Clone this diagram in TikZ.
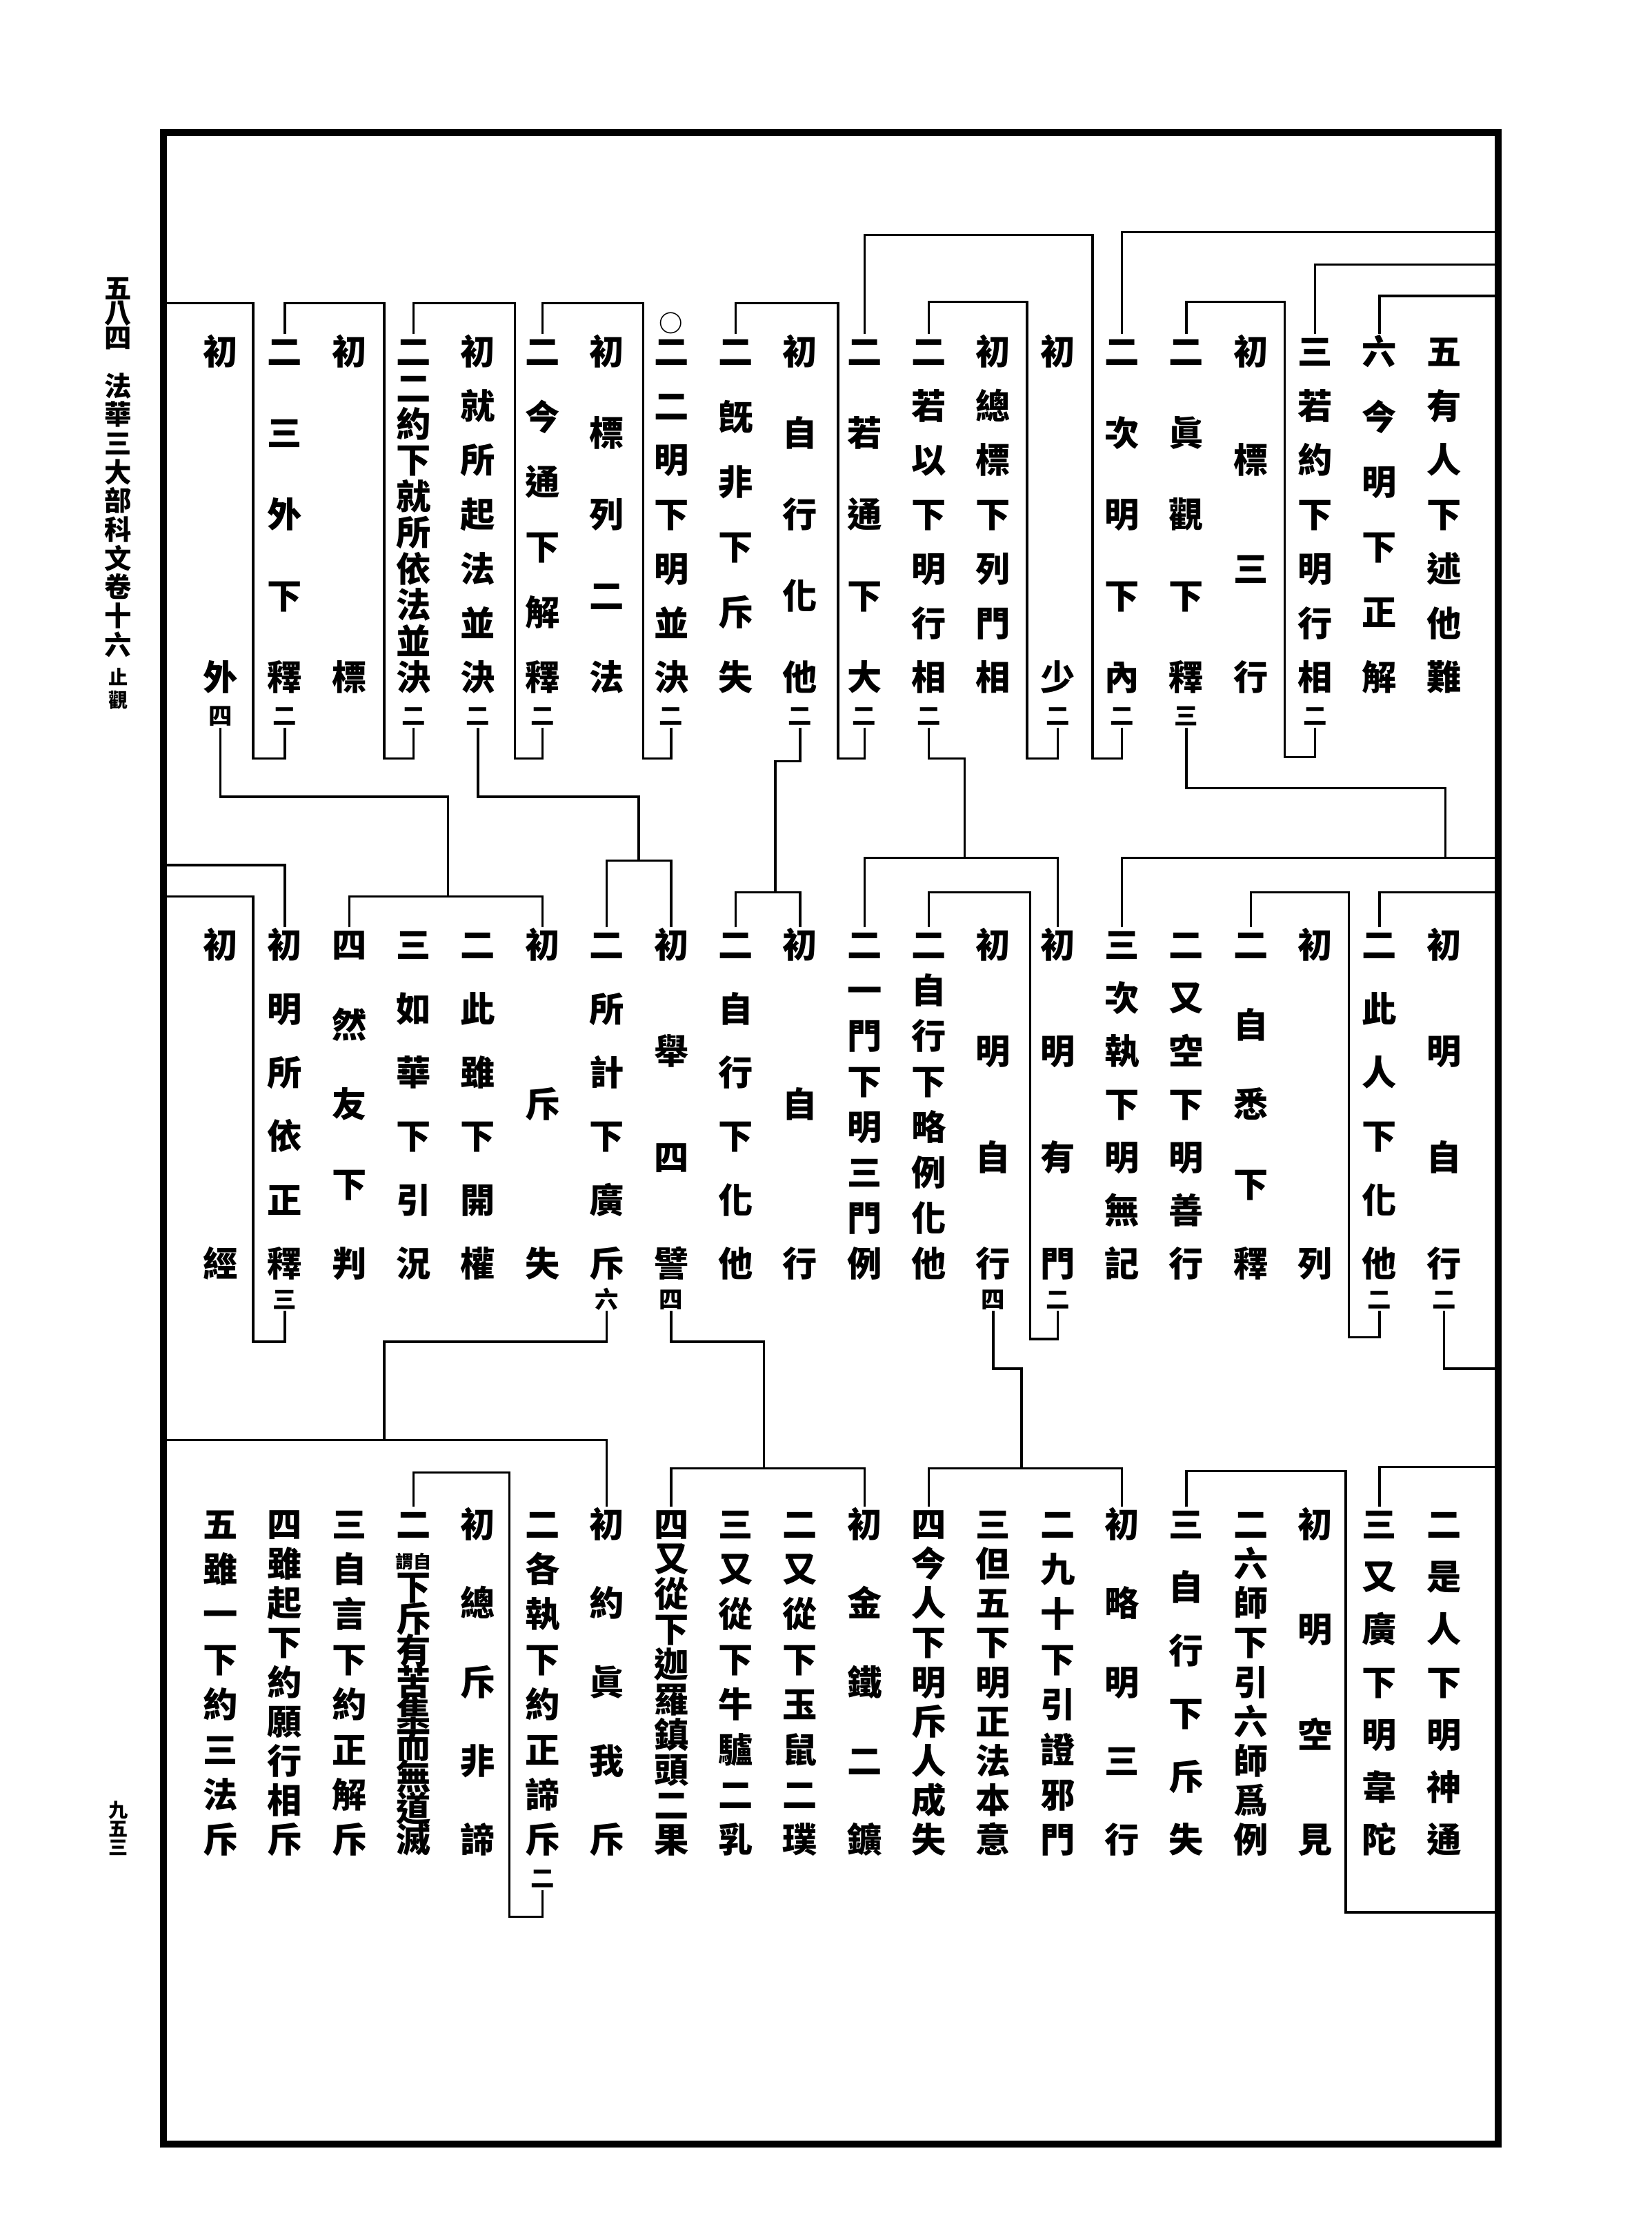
\documentclass[tikz,border=0pt]{standalone}
\usepackage{fontspec}
\newfontfamily\cjk{Noto Sans CJK TC}
\makeatletter
\def\vchars@end{\vchars@end}
\newcommand\vchars[1]{\vchars@#1\vchars@end}
\def\vchars@#1{\ifx#1\vchars@end\unskip\else\hbox to 1.1em{\hss\vrule height .88em depth .12em width 0pt\relax#1\hss}\vss\expandafter\vchars@\fi}
\makeatother
\newcommand\wz{{\fontsize{7.4pt}{7.4pt}\selectfont 謂自}}
% column node: name, k, ymid, span, chars
\newcommand\cn[5]{\node[colnode] (#1) at ({155+45.26*#2},#3) {\vbox to \dimexpr #4+1em\relax{\vchars{#5}\kern0pt}};}
\newcommand\cnT[3]{\cn{#1}{#2}{361.5}{47.22mm}{#3}}
\newcommand\cnM[3]{\cn{#1}{#2}{776}{46.19mm}{#3}}
\newcommand\cnB[3]{\cn{#1}{#2}{1182}{45.78mm}{#3}}
\newcommand\an[4]{\node[annnode] (#1) at ({155+45.26*#2},#3) {\vrule height .88em depth .12em width 0pt\relax #4};}
\begin{document}
\begin{tikzpicture}[x=0.2062mm,y=-0.2062mm,
  br/.style={line width=0.95pt},
  colnode/.style={inner sep=0pt,outer sep=0pt,font=\cjk\bfseries\fontsize{14.3pt}{14.3pt}\selectfont},
  annnode/.style={inner sep=0pt,outer sep=0pt,font=\cjk\bfseries\fontsize{9.8pt}{9.8pt}\selectfont},
  margnode/.style={inner sep=0pt,outer sep=0pt,font=\cjk\bfseries\fontsize{11.2pt}{11.2pt}\selectfont},
  margsmall/.style={inner sep=0pt,outer sep=0pt,font=\cjk\bfseries\fontsize{8pt}{8pt}\selectfont}]
\useasboundingbox (0,0) rectangle (1161,1568);
\fill[white] (0,0) rectangle (1161,1568);
% frame
\draw[line width=2.9pt] (115,93) rectangle (1053,1507);
\coordinate (Rb) at (1052,0);
\coordinate (Lb) at (116,0);
% margin
\node[margnode] (mg1) at (83,220) {\vbox to \dimexpr 7.2mm+1em\relax{\vchars{五八四}\kern0pt}};
\node[margnode] (mg2) at (83,362) {\vbox to \dimexpr 37.5mm+1em\relax{\vchars{法華三大部科文卷十六}\kern0pt}};
\node[margsmall] (mg3) at (83,484) {\vbox to \dimexpr 3.3mm+1em\relax{\vchars{止觀}\kern0pt}};
\node[margsmall] (mg4) at (83,1285) {\vbox to \dimexpr 5.4mm+1em\relax{\vchars{九五三}\kern0pt}};
% ---------------- top row
\cnT{T19}{19}{五有人下述他難}
\cnT{T18}{18}{六今明下正解}
\cnT{T17}{17}{三若約下明行相}  \an{T17a}{17}{503}{二}
\cnT{T16}{16}{初標三行}
\cnT{T15}{15}{二眞觀下釋}      \an{T15a}{15}{503}{三}
\cnT{T14}{14}{二次明下內}      \an{T14a}{14}{503}{二}
\cnT{T13}{13}{初少}            \an{T13a}{13}{503}{二}
\cnT{T12}{12}{初總標下列門相}
\cnT{T11}{11}{二若以下明行相}  \an{T11a}{11}{503}{二}
\cnT{T10}{10}{二若通下大}      \an{T10a}{10}{503}{二}
\cnT{T9}{9}{初自行化他}        \an{T9a}{9}{503}{二}
\cnT{T8}{8}{二旣非下斥失}
\cnT{T7}{7}{二二明下明並決}    \an{T7a}{7}{503}{二}
\an{T7o}{7}{227}{○}
\cnT{T6}{6}{初標列二法}
\cnT{T5}{5}{二今通下解釋}      \an{T5a}{5}{503}{二}
\cnT{T4}{4}{初就所起法並決}    \an{T4a}{4}{503}{二}
\cnT{T3}{3}{二二約下就所依法並決} \an{T3a}{3}{503}{二}
\cnT{T2}{2}{初標}
\cnT{T1}{1}{二三外下釋}        \an{T1a}{1}{503}{二}
\cnT{T0}{0}{初外}              \an{T0a}{0}{503}{四}
% ---------------- middle row
\cnM{M19}{19}{初明自行}        \an{M19a}{19}{913}{二}
\cnM{M18}{18}{二此人下化他}    \an{M18a}{18}{913}{二}
\cnM{M17}{17}{初列}
\cnM{M16}{16}{二自悉下釋}
\cnM{M15}{15}{二又空下明善行}
\cnM{M14}{14}{三次執下明無記}
\cnM{M13}{13}{初明有門}        \an{M13a}{13}{913}{二}
\cnM{M12}{12}{初明自行}        \an{M12a}{12}{913}{四}
\cnM{M11}{11}{二自行下略例化他}
\cnM{M10}{10}{二一門下明三門例}
\cnM{M9}{9}{初自行}
\cnM{M8}{8}{二自行下化他}
\cnM{M7}{7}{初舉四譬}          \an{M7a}{7}{913}{四}
\cnM{M6}{6}{二所計下廣斥}      \an{M6a}{6}{913}{六}
\cnM{M5}{5}{初斥失}
\cnM{M4}{4}{二此雖下開權}
\cnM{M3}{3}{三如華下引況}
\cnM{M2}{2}{四然友下判}
\cnM{M1}{1}{初明所依正釋}      \an{M1a}{1}{913}{三}
\cnM{M0}{0}{初經}
% ---------------- bottom row
\cnB{B19}{19}{二是人下明神通}
\cnB{B18}{18}{三又廣下明韋陀}
\cnB{B17}{17}{初明空見}
\cnB{B16}{16}{二六師下引六師爲例}
\cnB{B15}{15}{三自行下斥失}
\cnB{B14}{14}{初略明三行}
\cnB{B13}{13}{二九十下引證邪門}
\cnB{B12}{12}{三但五下明正法本意}
\cnB{B11}{11}{四今人下明斥人成失}
\cnB{B10}{10}{初金鐵二鑛}
\cnB{B9}{9}{二又從下玉鼠二璞}
\cnB{B8}{8}{三又從下牛驢二乳}
\cnB{B7}{7}{四又從下迦羅鎮頭二果}
\cnB{B6}{6}{初約眞我斥}
\cnB{B5}{5}{二各執下約正諦斥}  \an{B5a}{5}{1320}{二}
\cnB{B4}{4}{初總斥非諦}
\cnB{B3}{3}{二\wz 下斥有苦集而無道滅}
\cnB{B2}{2}{三自言下約正解斥}
\cnB{B1}{1}{四雖起下約願行相斥}
\cnB{B0}{0}{五雖一下約三法斥}
% ================= connectors: top row
\draw[br] (T14.north) -- (T14.north |- 0,163) -- (Rb |- 0,163);
\draw[br] (T17.north) -- (T17.north |- 0,186) -- (Rb |- 0,186);
\draw[br] (T18.north) -- (T18.north |- 0,208) -- (Rb |- 0,208);
\draw[br] (T17a.south) -- (T17a.south |- 0,532) -- (903,532) -- (903,212) -- (T15.north |- 0,212) -- (T15.north);
\draw[br] (T14a.south) -- (T14a.south |- 0,533) -- (768,533) -- (768,165) -- (T10.north |- 0,165) -- (T10.north);
\draw[br] (T13a.south) -- (T13a.south |- 0,533) -- (722,533) -- (722,212) -- (T11.north |- 0,212) -- (T11.north);
\draw[br] (T10a.south) -- (T10a.south |- 0,533) -- (589,533) -- (589,213) -- (T8.north |- 0,213) -- (T8.north);
\draw[br] (T7a.south) -- (T7a.south |- 0,533) -- (452,533) -- (452,213) -- (T5.north |- 0,213) -- (T5.north);
\draw[br] (T5a.south) -- (T5a.south |- 0,533) -- (362,533) -- (362,213) -- (T3.north |- 0,213) -- (T3.north);
\draw[br] (T3a.south) -- (T3a.south |- 0,533) -- (270,533) -- (270,213) -- (T1.north |- 0,213) -- (T1.north);
\draw[br] (T1a.south) -- (T1a.south |- 0,533) -- (178,533) -- (178,213) -- (Lb |- 0,213);
% top -> middle
\draw[br] (T15a.south) -- (T15a.south |- 0,554) -- (1016,554) -- (1016,603);
\draw[br] (M14.north) -- (M14.north |- 0,603) -- (Rb |- 0,603);
\draw[br] (M18.north) -- (M18.north |- 0,627) -- (Rb |- 0,627);
\draw[br] (T11a.south) -- (T11a.south |- 0,533) -- (678,533) -- (678,603);
\draw[br] (M10.north) -- (M10.north |- 0,603) -- (M13.north |- 0,603) -- (M13.north);
\draw[br] (T9a.south) -- (T9a.south |- 0,535) -- (545,535) -- (545,627);
\draw[br] (M8.north) -- (M8.north |- 0,627) -- (M9.north |- 0,627) -- (M9.north);
\draw[br] (T4a.south) -- (T4a.south |- 0,560) -- (449,560) -- (449,605);
\draw[br] (M6.north) -- (M6.north |- 0,605) -- (M7.north |- 0,605) -- (M7.north);
\draw[br] (T0a.south) -- (T0a.south |- 0,560) -- (315,560) -- (315,630);
\draw[br] (M2.north) -- (M2.north |- 0,630) -- (M5.north |- 0,630) -- (M5.north);
\draw[br] (Lb |- 0,608) -- (M1.north |- 0,608) -- (M1.north);
% middle row brackets
\draw[br] (M18a.south) -- (M18a.south |- 0,940) -- (948,940) -- (948,627) -- (M16.north |- 0,627) -- (M16.north);
\draw[br] (M13a.south) -- (M13a.south |- 0,941) -- (724,941) -- (724,627) -- (M11.north |- 0,627) -- (M11.north);
\draw[br] (M1a.south) -- (M1a.south |- 0,943) -- (178,943) -- (178,630) -- (Lb |- 0,630);
% middle -> bottom
\draw[br] (M19a.south) -- (M19a.south |- 0,962) -- (Rb |- 0,962);
\draw[br] (M12a.south) -- (M12a.south |- 0,962) -- (718,962) -- (718,1032);
\draw[br] (B11.north) -- (B11.north |- 0,1032) -- (B14.north |- 0,1032) -- (B14.north);
\draw[br] (M7a.south) -- (M7a.south |- 0,943) -- (537,943) -- (537,1032);
\draw[br] (B7.north) -- (B7.north |- 0,1032) -- (B10.north |- 0,1032) -- (B10.north);
\draw[br] (M6a.south) -- (M6a.south |- 0,943) -- (270,943) -- (270,1012);
\draw[br] (Lb |- 0,1012) -- (B6.north |- 0,1012) -- (B6.north);
% bottom row brackets
\draw[br] (B18.north) -- (B18.north |- 0,1031) -- (Rb |- 0,1031);
\draw[br] (Rb |- 0,1344) -- (946,1344) -- (946,1034) -- (B15.north |- 0,1034) -- (B15.north);
\draw[br] (B5a.south) -- (B5a.south |- 0,1347) -- (358,1347) -- (358,1035) -- (B3.north |- 0,1035) -- (B3.north);
\end{tikzpicture}
\end{document}
